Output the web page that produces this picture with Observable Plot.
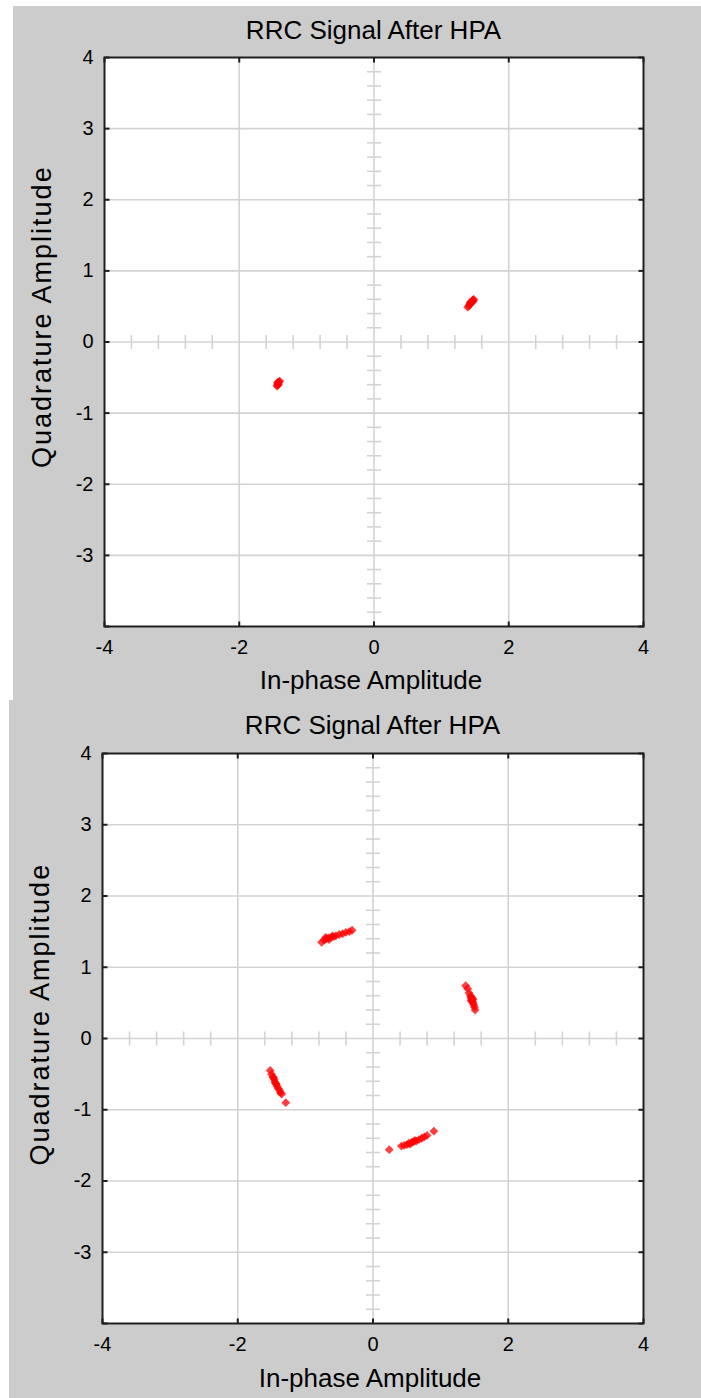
<!DOCTYPE html>
<html><head><meta charset="utf-8">
<script src="https://cdn.jsdelivr.net/npm/d3@7"></script>
<script src="https://cdn.jsdelivr.net/npm/@observablehq/plot@0.6"></script>
<style>
html,body{margin:0;padding:0;background:#fff;}
body{width:701px;height:1398px;position:relative;overflow:hidden;font-family:"Liberation Sans",Arial,sans-serif;}
.panel{position:absolute;background:#cccccc;}
.title{position:absolute;top:0;height:40px;text-align:center;font-size:26px;color:#000;white-space:nowrap;}
.chart{position:absolute;top:40px;left:0;}
</style></head><body>
<div class="panel" id="p1" style="left:13px;top:6px;width:688px;height:694px"></div>
<div class="panel" id="p2" style="left:9px;top:700px;width:692px;height:698px"></div>
<script>
const titleText = "RRC Signal After HPA";
const xLabel = "In-phase Amplitude";
const yLabel = "Quadrature Amplitude";
const axisDomain = [-4, 4];
const xTickValues = [-4, -2, 0, 2, 4];
const yTickValues = [-3, -2, -1, 0, 1, 2, 3, 4];
const xGridValues = [-2, 0, 2];
const yGridValues = [-3, -2, -1, 0, 1, 2, 3];
const frameTickX = [-4, -2, 0, 2, 4];
const frameTickY = [-4, -3, -2, -1, 0, 1, 2, 3, 4];
const xMinorTicks = [-3.6,-3.2,-2.8,-2.4,-1.6,-1.2,-0.8,-0.4,0.4,0.8,1.2,1.6,2.4,2.8,3.2,3.6];
const yMinorTicks = [-3.8,-3.6,-3.4,-3.2,-2.8,-2.6,-2.4,-2.2,-1.8,-1.6,-1.4,-1.2,-0.8,-0.6,-0.4,-0.2,0.2,0.4,0.6,0.8,1.2,1.4,1.6,1.8,2.2,2.4,2.6,2.8,3.2,3.4,3.6,3.8];

// Top panel: two clusters
const topC1I = [1.39,1.41,1.42,1.43,1.44,1.45,1.46,1.47,1.48,1.45,1.47,1.43];
const topC1Q = [0.49,0.51,0.53,0.54,0.55,0.57,0.58,0.59,0.60,0.56,0.57,0.56];
const topC2I = [-1.44,-1.43,-1.43,-1.42,-1.42,-1.41,-1.40,-1.42,-1.43];
const topC2Q = [-0.62,-0.61,-0.59,-0.58,-0.57,-0.56,-0.55,-0.60,-0.57];

// Bottom panel: four clusters
const botAI = [-0.76,-0.72,-0.70,-0.69,-0.66,-0.65,-0.62,-0.60,-0.58,-0.55,-0.50,-0.45,-0.40,-0.35,-0.31];
const botAQ = [1.35,1.38,1.42,1.40,1.41,1.39,1.42,1.44,1.43,1.44,1.46,1.47,1.49,1.50,1.52];
const botBI = [1.37,1.40,1.42,1.44,1.45,1.46,1.46,1.45,1.47,1.48,1.48,1.49,1.50,1.51];
const botBQ = [0.74,0.70,0.64,0.60,0.57,0.58,0.55,0.53,0.52,0.55,0.50,0.47,0.44,0.40];
const botCI = [-1.52,-1.50,-1.48,-1.47,-1.46,-1.45,-1.44,-1.43,-1.42,-1.40,-1.38,-1.37,-1.35,-1.29];
const botCQ = [-0.45,-0.50,-0.54,-0.55,-0.58,-0.61,-0.63,-0.64,-0.67,-0.70,-0.73,-0.76,-0.78,-0.90];
const botDI = [0.24,0.42,0.46,0.50,0.53,0.55,0.57,0.60,0.62,0.64,0.68,0.72,0.76,0.80,0.90];
const botDQ = [-1.56,-1.51,-1.50,-1.49,-1.47,-1.48,-1.46,-1.45,-1.43,-1.44,-1.42,-1.40,-1.38,-1.36,-1.30];

function pairs(I, Q) { return I.map((x, i) => ({x, y: Q[i]})); }
const rad = s => Math.sqrt(s / Math.PI);
const symV = {draw(c, s) { const r = rad(s); c.moveTo(0, -r); c.lineTo(0, r); }};
const symH = {draw(c, s) { const r = rad(s); c.moveTo(-r, 0); c.lineTo(r, 0); }};
const symUp = {draw(c, s) { const r = rad(s); c.moveTo(0, 0); c.lineTo(0, -r); }};
const symDown = {draw(c, s) { const r = rad(s); c.moveTo(0, 0); c.lineTo(0, r); }};
const symRight = {draw(c, s) { const r = rad(s); c.moveTo(0, 0); c.lineTo(r, 0); }};
const symLeft = {draw(c, s) { const r = rad(s); c.moveTo(0, 0); c.lineTo(-r, 0); }};

const gridColor = "#d3d3d3";
const frameColor = "#1e1e1e";
const fmt = d => String(d);

function panel(el, cfg, points) {
  const plotW = cfg.width - cfg.marginLeft - cfg.marginRight;
  const t = document.createElement("div");
  t.className = "title";
  t.style.left = cfg.marginLeft + "px";
  t.style.width = plotW + "px";
  t.style.lineHeight = cfg.titleLH + "px";
  t.textContent = titleText;
  el.appendChild(t);
  const lo = axisDomain[0], hi = axisDomain[1];
  const chart = Plot.plot({
    width: cfg.width, height: cfg.height,
    marginLeft: cfg.marginLeft, marginRight: cfg.marginRight,
    marginTop: cfg.marginTop, marginBottom: cfg.marginBottom,
    style: {background: "transparent", fontFamily: "Liberation Sans, Arial, sans-serif", fontSize: "20px", color: "#000"},
    x: {domain: axisDomain},
    y: {domain: axisDomain},
    marks: [
      Plot.frame({fill: "white", stroke: null}),
      Plot.gridX(xGridValues, {stroke: gridColor, strokeOpacity: 1, strokeWidth: 1.6}),
      Plot.gridY(yGridValues, {stroke: gridColor, strokeOpacity: 1, strokeWidth: 1.6}),
      Plot.dot(xMinorTicks, {x: d => d, y: () => 0, symbol: symV, r: 7, fill: "none", stroke: gridColor, strokeWidth: 1.6}),
      Plot.dot(yMinorTicks, {x: () => 0, y: d => d, symbol: symH, r: 7, fill: "none", stroke: gridColor, strokeWidth: 1.6}),
      Plot.dot(points, {x: "x", y: "y", symbol: "diamond2", r: 4, fill: "#ff0000", fillOpacity: 0.75, stroke: null}),
      Plot.frame({stroke: frameColor, strokeWidth: 2}),
      Plot.dot(frameTickX, {x: d => d, y: () => lo, symbol: symUp, r: 5, fill: "none", stroke: frameColor, strokeWidth: 2}),
      Plot.dot(frameTickX, {x: d => d, y: () => hi, symbol: symDown, r: 5, fill: "none", stroke: frameColor, strokeWidth: 2}),
      Plot.dot(frameTickY, {x: () => lo, y: d => d, symbol: symRight, r: 5, fill: "none", stroke: frameColor, strokeWidth: 2}),
      Plot.dot(frameTickY, {x: () => hi, y: d => d, symbol: symLeft, r: 5, fill: "none", stroke: frameColor, strokeWidth: 2}),
      Plot.axisX(xTickValues, {tickSize: 0, tickPadding: 13, label: null, tickFormat: fmt, fill: "#000"}),
      Plot.axisY(yTickValues, {tickSize: 0, tickPadding: 11, label: null, tickFormat: fmt, fill: "#000"}),
      Plot.text([xLabel], {text: d => d, frameAnchor: "bottom", dx: -3, dy: cfg.xLabelDy, textAnchor: "middle", lineAnchor: "middle", fontSize: 26, fill: "#000"}),
      Plot.text([yLabel], {text: d => d, frameAnchor: "left", dx: cfg.yLabelDx, dy: cfg.yLabelDy, rotate: -90, textAnchor: "start", lineAnchor: "middle", fontSize: 27, fill: "#000"})
    ]
  });
  d3.select(chart).selectAll("text").filter(function() { return this.textContent === yLabel; })
    .style("letter-spacing", "2px");
  chart.classList.add("chart");
  el.appendChild(chart);
}

panel(document.getElementById("p1"),
  {width: 688, height: 654, marginLeft: 91, marginRight: 58, marginTop: 11, marginBottom: 74, titleLH: 48, xLabelDy: 54, yLabelDx: -62, yLabelDy: 126},
  pairs(topC1I, topC1Q).concat(pairs(topC2I, topC2Q)));
panel(document.getElementById("p2"),
  {width: 692, height: 658, marginLeft: 93, marginRight: 58, marginTop: 13, marginBottom: 75, titleLH: 50, xLabelDy: 55, yLabelDx: -62, yLabelDy: 127},
  pairs(botAI, botAQ).concat(pairs(botBI, botBQ), pairs(botCI, botCQ), pairs(botDI, botDQ)));
</script>
</body></html>
